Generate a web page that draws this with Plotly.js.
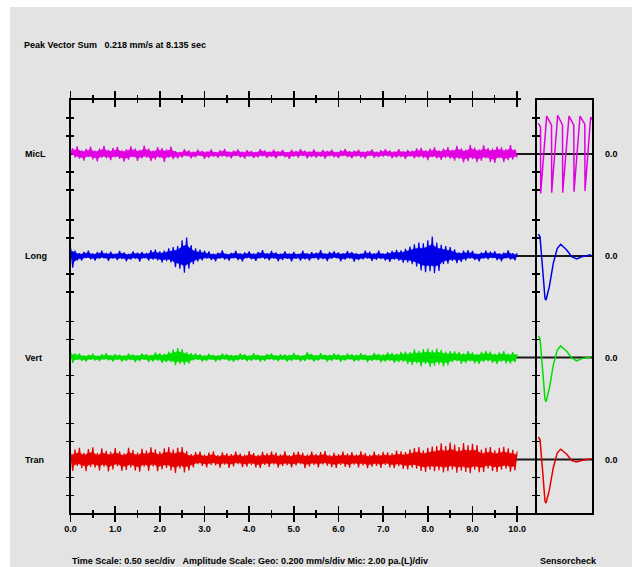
<!DOCTYPE html>
<html><head><meta charset="utf-8">
<script src="https://cdn.plot.ly/plotly-3.0.1.min.js"></script>
<style>
html,body{margin:0;padding:0;background:#fff;width:632px;height:567px;overflow:hidden;}
#chart{position:absolute;left:10px;top:7px;width:622px;height:560px;}
</style></head><body>
<div id="chart"></div>
<script>
// ---------------- DATA ----------------
const channelNames = ['MicL', 'Long', 'Vert', 'Tran'];
const zeroLabels = ['0.0', '0.0', '0.0', '0.0'];
const timeTickLabels = ['0.0','1.0','2.0','3.0','4.0','5.0','6.0','7.0','8.0','9.0','10.0'];
const sampleInterval = 0.05;           // s between samples
const geoScale = 0.200;                // mm/s per div
const micScale = 2.00;                 // pa per div

// MicL (pa)
const micL = [0.10,
0.62,-0.38,0.85,-0.52,0.40,-0.74,0.55,-0.35,0.80,-0.60,
0.36,-0.82,0.58,-0.42,0.90,-0.48,0.44,-0.70,0.66,-0.38,
0.78,-0.55,0.40,-0.86,0.52,-0.64,0.84,-0.36,0.60,-0.76,
0.46,-0.50,0.92,-0.40,0.58,-0.80,0.38,-0.62,0.76,-0.45,
0.64,-0.88,0.50,-0.42,0.82,-0.58,
0.30,-0.48,0.22,-0.40,0.52,-0.26,0.38,-0.50,0.24,-0.36,
0.46,-0.22,0.34,-0.55,0.28,-0.42,0.50,-0.30,0.20,-0.44,
0.40,-0.28,0.56,-0.34,0.26,-0.48,0.36,-0.24,0.50,-0.40,
0.24,-0.52,0.42,-0.30,0.34,-0.46,0.22,-0.38,0.54,-0.26,
0.38,-0.44,0.26,-0.32,0.48,-0.50,0.30,-0.24,0.44,-0.36,
0.20,-0.54,0.46,-0.28,0.32,-0.40,0.52,-0.22,0.36,-0.48,
0.28,-0.34,0.50,-0.42,0.24,-0.30,0.44,-0.52,0.34,-0.26,
0.48,-0.38,0.22,-0.46,0.40,-0.24,0.55,-0.34,0.30,-0.50,
0.36,-0.28,0.46,-0.40,0.26,-0.52,0.32,-0.22,0.50,-0.44,
0.24,-0.36,0.42,-0.30,0.54,-0.26,0.38,-0.48,0.28,-0.40,
0.52,-0.34,0.30,-0.56,0.44,-0.28,0.36,-0.50,0.62,-0.38,
0.66,-0.45,
0.42,-0.70,0.58,-0.36,0.72,-0.50,0.40,-0.66,0.60,-0.44,0.76,-0.52,0.46,-0.74,
0.90,-0.55,0.62,-0.95,0.48,-0.80,1.00,-0.58,0.70,-0.92,
0.52,-0.76,0.96,-0.50,0.66,-0.88,0.58,-1.00,0.82,-0.48,
0.74,-0.90,0.54,-0.70,0.98,-0.62,0.50,-0.40];

// Long (mm/s)
const longCh = [0.10,-0.13,0.06,-0.05,
0.030,-0.052,0.046,-0.024,0.058,-0.036,0.028,-0.050,0.044,-0.030,
0.060,-0.026,0.034,-0.055,0.048,-0.028,0.026,-0.046,0.056,-0.034,
0.040,-0.058,0.024,-0.040,0.052,-0.030,0.036,-0.062,0.046,-0.026,
0.034,-0.050,0.064,-0.040,0.070,-0.048,0.052,-0.072,0.060,-0.056,
0.085,-0.070,0.100,
-0.125,0.110,-0.140,
0.175,-0.185,0.205,
-0.140,0.120,-0.090,0.085,
-0.060,0.070,-0.048,0.058,
-0.030,0.052,-0.044,0.026,-0.058,0.036,-0.028,0.062,-0.040,0.024,
-0.050,0.034,-0.026,0.056,-0.046,0.030,-0.060,0.040,-0.024,0.050,
-0.036,0.028,-0.054,0.044,-0.026,0.064,-0.034,0.030,-0.048,0.056,
-0.028,0.040,-0.058,0.026,-0.044,0.052,-0.032,0.028,-0.060,0.046,
-0.030,0.024,-0.050,0.058,-0.036,0.030,-0.052,0.042,-0.026,0.036,
-0.044,0.066,-0.034,0.028,-0.056,0.046,-0.030,0.052,-0.024,0.040,
-0.058,0.032,-0.040,0.054,-0.028,0.044,-0.062,0.030,-0.046,0.026,
-0.036,0.058,-0.028,0.048,-0.054,0.030,-0.042,0.060,-0.034,0.028,
-0.050,0.044,-0.064,0.056,-0.040,0.068,-0.052,0.062,-0.074,
0.080,-0.070,0.105,-0.090,
0.130,-0.115,0.150,-0.160,0.140,
-0.180,0.175,-0.170,0.215,-0.190,
0.150,-0.165,0.125,
-0.090,0.110,-0.085,0.100,
-0.055,0.075,-0.080,0.040,-0.066,0.060,-0.048,0.064,
-0.030,0.056,-0.044,0.026,-0.060,0.040,-0.028,0.058,-0.036,0.048,
-0.024,0.052,-0.046,0.030,-0.058,0.036,-0.026,0.062,-0.040,0.030,
-0.048,0.030];

// Vert (mm/s)
const vert = [0.067,-0.060,0.045,
-0.026,0.044,-0.038,0.022,-0.046,0.030,-0.024,0.042,-0.034,0.020,
-0.040,0.036,-0.022,0.048,-0.030,0.026,-0.044,0.038,-0.024,0.032,
-0.046,0.022,-0.036,0.044,-0.028,0.034,-0.050,0.026,-0.040,0.046,
-0.024,0.038,-0.052,0.030,-0.044,0.056,-0.034,0.048,-0.060,0.040,
-0.052,
0.065,-0.050,0.090,-0.085,0.105,-0.070,0.095,-0.080,0.060,-0.068,0.048,
-0.030,0.046,-0.024,0.036,-0.044,0.022,-0.038,0.042,-0.026,0.030,
-0.046,0.024,-0.034,0.044,-0.022,0.038,-0.040,0.028,-0.048,0.026,
-0.032,0.046,-0.024,0.036,-0.042,0.022,-0.036,0.048,-0.028,0.030,
-0.044,0.024,-0.038,0.040,-0.022,0.046,-0.030,0.026,-0.042,0.036,
-0.024,0.034,-0.046,0.028,-0.036,0.050,-0.026,0.030,-0.044,0.022,
-0.038,0.060,-0.024,0.040,-0.046,0.026,-0.034,0.048,-0.022,0.032,
-0.044,0.028,-0.036,0.046,-0.024,0.038,-0.048,0.026,-0.032,0.044,
-0.022,0.036,-0.046,0.030,-0.040,0.048,-0.028,0.034,-0.050,0.024,
-0.036,0.052,-0.030,0.040,-0.054,0.034,-0.046,0.056,-0.038,0.050,
-0.058,0.044,-0.052,0.062,-0.046,0.066,-0.070,
0.060,-0.082,0.090,-0.064,0.075,-0.098,0.094,-0.070,0.100,-0.104,0.082,-0.090,0.098,-0.076,0.086,-0.100,0.066,-0.084,0.072,
-0.050,0.068,-0.040,0.064,-0.070,0.046,-0.062,0.072,-0.044,0.058,
-0.066,0.040,-0.070,0.062,-0.048,0.074,-0.042,0.066,-0.060,0.044,
-0.072,0.056,-0.046,0.070,-0.064,0.042,-0.068,0.060,-0.050,0.040];

// Tran (mm/s)
const tran = [
0.080,-0.125,0.110,-0.070,0.130,-0.095,0.075,-0.128,0.118,-0.082,
0.135,-0.090,0.072,-0.120,0.124,-0.078,0.098,-0.132,0.085,-0.110,
0.128,-0.074,0.092,-0.126,0.070,-0.116,0.132,-0.088,0.106,-0.122,
0.078,-0.134,0.120,-0.080,0.100,-0.125,0.136,-0.076,0.114,-0.130,
0.088,-0.108,0.126,-0.094,
0.138,-0.120,0.110,-0.148,0.132,-0.100,0.140,-0.142,0.095,-0.120,
0.060,-0.088,0.084,-0.052,0.090,-0.070,0.055,-0.086,0.078,-0.058,
0.092,-0.064,0.050,-0.090,0.080,-0.056,0.070,-0.092,0.062,-0.076,
0.088,-0.050,0.066,-0.084,0.054,-0.078,0.094,-0.060,0.072,-0.088,
0.052,-0.094,0.086,-0.058,0.068,-0.082,0.090,-0.054,0.078,-0.090,
0.058,-0.070,0.092,-0.062,0.050,-0.086,0.080,-0.066,0.088,-0.052,
0.074,-0.094,0.056,-0.076,0.090,-0.060,0.064,-0.088,0.082,-0.054,
0.094,-0.068,0.052,-0.084,0.076,-0.092,0.060,-0.058,0.088,-0.080,
0.066,-0.090,0.084,-0.056,0.058,-0.086,0.092,-0.064,0.072,-0.094,
0.054,-0.078,0.090,-0.070,0.062,-0.092,0.086,-0.058,0.080,-0.088,
0.070,-0.096,0.100,-0.074,0.092,-0.104,0.084,-0.110,0.112,-0.090,
0.128,-0.100,0.140,-0.126,0.104,-0.138,0.132,-0.112,0.145,-0.128,0.150,
-0.118,0.180,-0.142,0.150,-0.130,0.190,-0.110,0.168,-0.146,0.140,-0.124,0.185,-0.138,0.158,-0.150,0.176,-0.112,0.162,-0.140,
0.110,-0.138,0.132,-0.098,0.140,-0.126,0.104,-0.136,0.130,-0.112,0.142,-0.100,0.124,-0.134,0.108,-0.120,0.090];

// Sensorcheck (time within the check window; geo in mm/s, mic in pa)
const scMicT = [0.024,0.064,0.067,0.176,0.264,0.267,0.376,0.464,0.467,0.582,0.669,0.673,0.782,0.869,0.873,0.976,1.0];
const scMic  = [3.4,3.0,-4.4,4.2,3.2,-4.3,4.3,3.2,-4.3,4.2,3.2,-4.2,4.2,3.3,-4.1,4.1,3.8];
const scGeoT = [0.024,0.055,0.104,0.145,0.164,0.224,0.296,0.369,0.431,0.540,0.631,0.722,0.813,0.904,0.982];
const scLong = [0.244,0.214,-0.156,-0.470,-0.489,-0.341,-0.081,0.086,0.130,0.067,-0.008,-0.033,-0.008,0.003,0.014];
const scVert = [0.241,0.210,-0.150,-0.465,-0.492,-0.345,-0.085,0.082,0.130,0.070,-0.005,-0.037,-0.012,0.000,0.007];
const scTran = [0.252,0.220,-0.140,-0.460,-0.483,-0.340,-0.090,0.075,0.115,0.060,-0.010,-0.026,-0.010,0.000,0.010];

// ---------------- STYLE / LAYOUT ----------------
const colors = ['#e000e0', '#0000e6', '#00e000', '#e60000'];
const baselineDiv = [19.92, 14.25, 8.61, 2.94];   // channel zero lines, in divisions
const coreFrac = 0.6;                              // share of each swing drawn as solid core
const yMax = 22.944;
const W = 622, H = 560;
const fx = v => v / W, fy = v => (H - v) / H;
const FONT = 'Liberation Sans, Arial, sans-serif';

const signals = [micL, longCh, vert, tran];
const scales = [micScale, geoScale, geoScale, geoScale];
const scSignals = [scMic, scLong, scVert, scTran];
const scTimes = [scMicT, scGeoT, scGeoT, scGeoT];
const xEnd = 10.4;

const traces = [];
channelNames.forEach((name, c) => {
  traces.push({x: [0, xEnd], y: [baselineDiv[c], baselineDiv[c]], xaxis: 'x', yaxis: 'y',
    mode: 'lines', line: {color: '#1a1a1a', width: 2}, hoverinfo: 'skip', showlegend: false});
  traces.push({x: [0, 1], y: [baselineDiv[c], baselineDiv[c]], xaxis: 'x2', yaxis: 'y2',
    mode: 'lines', line: {color: '#1a1a1a', width: 2}, hoverinfo: 'skip', showlegend: false});
});
channelNames.forEach((name, c) => {
  const s = signals[c];
  const t = s.map((v, i) => i * sampleInterval);
  const yv = s.map(v => baselineDiv[c] + v / scales[c]);
  const up = [], lo = [];
  s.forEach((v, i) => { (v > 0 ? up : lo).push([t[i], baselineDiv[c] + coreFrac * v / scales[c]]); });
  const bx = up.map(p => p[0]).concat(lo.slice().reverse().map(p => p[0]));
  const by = up.map(p => p[1]).concat(lo.slice().reverse().map(p => p[1]));
  traces.push({x: bx, y: by, xaxis: 'x', yaxis: 'y', mode: 'lines', fill: 'toself', fillcolor: colors[c],
    line: {width: 0.5, color: colors[c]}, hoverinfo: 'skip', showlegend: false});
  traces.push({name: name, x: t, y: yv,
    xaxis: 'x', yaxis: 'y', mode: 'lines', line: {color: colors[c], width: 1.2}, showlegend: false});
  traces.push({name: name + ' sensorcheck', x: scTimes[c], y: scSignals[c].map(v => baselineDiv[c] + v / scales[c]),
    xaxis: 'x2', yaxis: 'y2', mode: 'lines', line: {color: colors[c], width: 1.5}, showlegend: false});
});
['x3', 'x4', 'x5'].forEach(ax => traces.push({x: [], y: [], xaxis: ax, yaxis: 'y', mode: 'lines', showlegend: false, hoverinfo: 'skip'}));
traces.push({x: [], y: [], xaxis: 'x', yaxis: 'y3', mode: 'lines', showlegend: false, hoverinfo: 'skip'});

const yTicks = [];
baselineDiv.forEach(b => { yTicks.push(b - 2, b - 1, b + 1, b + 2); });

const tickVals = timeTickLabels.map(Number);
const yDom = [fy(505.5), fy(92.5)];
const mainDom = [fx(60.5), fx(525)];
const pxPerSec = (507 - 60.5) / 10;
const base = {showgrid: false, zeroline: false, fixedrange: true};
const tickFont = {family: FONT, size: 9, color: '#000', weight: 'bold'};
const minorOut = {tickmode: 'linear', tick0: 0.5, dtick: 1, ticks: 'outside', ticklen: 3, tickwidth: 1.5, tickcolor: '#000'};
const minorIn = {tickmode: 'linear', tick0: 0.5, dtick: 1, ticks: 'inside', ticklen: 3, tickwidth: 1.5, tickcolor: '#000'};
const rulerEnd = (508.5 - 60.5) / pxPerSec;

const layout = {
  width: W, height: H,
  margin: {l: 0, r: 0, t: 0, b: 0},
  paper_bgcolor: '#e3e3e3', plot_bgcolor: 'rgba(0,0,0,0)',
  showlegend: false,
  xaxis: Object.assign({}, base, {domain: mainDom, range: [0, xEnd], anchor: 'y',
    tickmode: 'array', tickvals: tickVals, ticktext: timeTickLabels, ticks: 'outside', ticklen: 7, tickwidth: 1.5, tickcolor: '#000',
    minor: minorOut, showline: true, linewidth: 2, linecolor: '#000', tickfont: tickFont}),
  xaxis3: Object.assign({}, base, {overlaying: 'x', range: [0, xEnd], anchor: 'y', side: 'bottom',
    tickmode: 'array', tickvals: tickVals, ticks: 'inside', ticklen: 7, tickwidth: 1.5, tickcolor: '#000',
    minor: minorIn, showticklabels: false, showline: false}),
  xaxis4: Object.assign({}, base, {domain: [fx(60.5), fx(508.5)], range: [0, rulerEnd], anchor: 'y', side: 'top',
    tickmode: 'array', tickvals: tickVals, ticks: 'outside', ticklen: 7, tickwidth: 1.5, tickcolor: '#000',
    minor: minorOut, showticklabels: false, showline: true, linewidth: 2, linecolor: '#000'}),
  xaxis5: Object.assign({}, base, {overlaying: 'x4', range: [0, rulerEnd], anchor: 'y', side: 'top',
    tickmode: 'array', tickvals: tickVals, ticks: 'inside', ticklen: 7, tickwidth: 1.5, tickcolor: '#000',
    minor: minorIn, showticklabels: false, showline: false}),
  yaxis: Object.assign({}, base, {domain: yDom, range: [0, yMax], anchor: 'x',
    tickmode: 'array', tickvals: yTicks, ticks: 'outside', ticklen: 3, tickwidth: 1.5, tickcolor: '#000',
    showticklabels: false, showline: true, linewidth: 2, linecolor: '#000', mirror: 'ticks'}),
  yaxis3: Object.assign({}, base, {overlaying: 'y', range: [0, yMax], anchor: 'x',
    tickmode: 'array', tickvals: yTicks, ticks: 'inside', ticklen: 3, tickwidth: 1.5, tickcolor: '#000',
    showticklabels: false, showline: false, mirror: 'ticks'}),
  xaxis2: Object.assign({}, base, {domain: [fx(527), fx(582)], range: [0, 1], anchor: 'y2',
    showticklabels: false, ticks: '', showline: true, linewidth: 2, linecolor: '#000', mirror: true}),
  yaxis2: Object.assign({}, base, {domain: yDom, range: [0, yMax], anchor: 'x2',
    showticklabels: false, ticks: '', showline: true, linewidth: 2, linecolor: '#000', mirror: true}),
  annotations: []
};

const annFont = {family: FONT, size: 9, color: '#000', weight: 'bold'};
channelNames.forEach((name, c) => {
  layout.annotations.push({text: name, xref: 'paper', yref: 'y', x: fx(12.5), y: baselineDiv[c],
    xanchor: 'left', yanchor: 'middle', showarrow: false, font: annFont});
  layout.annotations.push({text: zeroLabels[c], xref: 'paper', yref: 'y', x: fx(593), y: baselineDiv[c],
    xanchor: 'left', yanchor: 'middle', showarrow: false, font: annFont});
});
const nb = '\u00a0';
layout.annotations.push({text: 'Peak Vector Sum' + nb + nb + nb + '0.218 mm/s at 8.135 sec', xref: 'paper', yref: 'paper',
  x: fx(12), y: fy(38), xanchor: 'left', yanchor: 'middle', showarrow: false, font: annFont});
layout.annotations.push({text: 'Time Scale: 0.50 sec/div' + nb + nb + nb + 'Amplitude Scale: Geo: 0.200 mm/s/div Mic: 2.00 pa.(L)/div',
  xref: 'paper', yref: 'paper', x: fx(60), y: fy(554), xanchor: 'left', yanchor: 'middle', showarrow: false, font: annFont});
layout.annotations.push({text: 'Sensorcheck', xref: 'paper', yref: 'paper', x: fx(528), y: fy(554),
  xanchor: 'left', yanchor: 'middle', showarrow: false, font: annFont});

Plotly.newPlot('chart', traces, layout, {displayModeBar: false, staticPlot: true});
</script></body></html>
